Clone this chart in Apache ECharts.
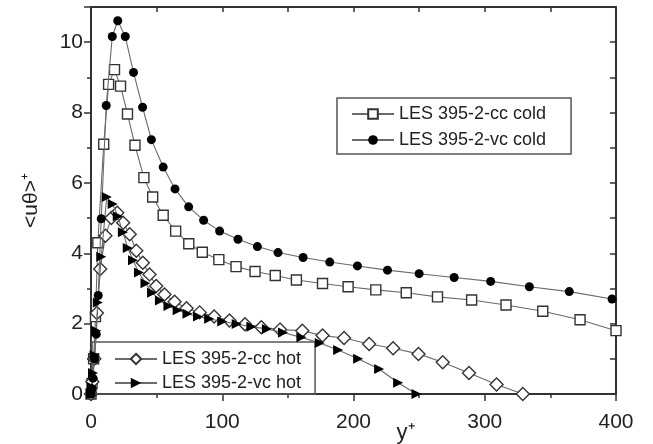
<!DOCTYPE html>
<html><head><meta charset="utf-8">
<script src="https://cdn.jsdelivr.net/npm/echarts@6/dist/echarts.min.js"></script>
<style>html,body{margin:0;padding:0;background:#fff}#c{width:653px;height:444px}</style>
</head><body><div id="c"></div>
<script>
const ccColdX = [0,0.8,2,3.4,5.2,9.7,13.4,17.9,22.5,27.8,33.5,40.3,47,55,64.5,74.5,84.8,97.4,110.5,125,140.4,156.5,176.4,195.9,217,240.2,264,290,316.2,344.2,372.6,400];
const ccColdY = [0,0.3,1.0,2.2,4.3,7.1,8.8,9.22,8.75,7.96,7.07,6.15,5.6,5.08,4.63,4.27,4.03,3.82,3.62,3.48,3.37,3.24,3.14,3.05,2.96,2.88,2.76,2.67,2.53,2.35,2.11,1.80];
const vcColdX = [0,0.7,1.5,2.7,4,5.5,7.8,11.6,16.2,20.4,26.1,32.4,39.3,46,55,64,74.4,85.8,98,112,126.8,142.5,161.6,181.9,203,225.9,250,276.7,304.5,334,364.4,397];
const vcColdY = [0,0.15,0.45,1.0,1.7,2.8,4.98,8.2,10.16,10.61,10.16,9.14,8.15,7.23,6.45,5.83,5.32,4.94,4.63,4.40,4.19,4.02,3.88,3.75,3.64,3.52,3.42,3.31,3.20,3.05,2.91,2.70];
const ccHotX = [0,1,2.5,4.5,7,11,15.5,20,24.5,29.5,34.5,39.5,44.6,49.7,56,63.7,72.8,82.8,93.8,105.5,117.3,129.8,144,161,176.4,192.8,211.9,230.2,249.5,268,288,309,329];
const ccHotY = [0,0.35,1.0,2.3,3.55,4.5,5.0,5.15,4.87,4.54,4.07,3.73,3.4,3.07,2.83,2.62,2.44,2.32,2.2,2.09,1.98,1.9,1.83,1.80,1.66,1.59,1.42,1.30,1.14,0.9,0.6,0.27,0.0];
const vcHotX = [0,0.7,1.5,2.7,4,5.2,7.8,12,16.5,20.4,24.3,28,32,36.5,41.5,46.5,52.5,59,66,73.5,81.5,90,100,111,122.2,134,146.3,160.3,174.3,188.3,203.5,219.5,234,248];
const vcHotY = [0,0.2,0.6,1.1,1.8,2.6,3.9,5.6,5.4,5.05,4.6,4.15,3.8,3.45,3.15,2.88,2.66,2.5,2.38,2.28,2.2,2.14,2.06,1.99,1.91,1.85,1.75,1.61,1.45,1.25,1.0,0.71,0.32,0.0];
const names = ['LES 395-2-cc cold','LES 395-2-vc cold','LES 395-2-cc hot','LES 395-2-vc hot'];
const xTicks = {min:0, max:400, interval:100};
const yTicks = {min:0, max:11, interval:2};

const FONT = 'Liberation Sans, Arial, sans-serif';
const zip = (a,b)=>a.map((v,i)=>[v,b[i]]);
const lineStyle = {color:'#6a6a6a', width:1.1};
const axisLine = {show:true, onZero:false, lineStyle:{color:'#333', width:2}};
const chart = echarts.init(document.getElementById('c'), null, {renderer:'canvas'});
chart.setOption({
  animation:false,
  backgroundColor:'#fff',
  grid:{left:91, right:37, top:7, bottom:50, containLabel:false, outerBoundsMode:'none'},
  xAxis:[
    {type:'value', min:xTicks.min, max:xTicks.max, interval:xTicks.interval,
     name:'y⁺', nameLocation:'middle', nameGap:28, nameMoveOverlap:false,
     nameTextStyle:{fontSize:22, color:'#222', fontFamily:FONT, padding:[0,0,0,104]},
     axisLine:axisLine, axisTick:{show:true, inside:false, length:7, lineStyle:{color:'#333', width:1.5}},
     minorTick:{show:true, splitNumber:2, length:4, lineStyle:{color:'#333', width:1.5}},
     axisLabel:{fontSize:21, color:'#222', fontFamily:FONT, margin:18},
     splitLine:{show:false}},
    {type:'value', position:'top', min:xTicks.min, max:xTicks.max, interval:50,
     axisLine:axisLine, axisTick:{show:true, inside:true, length:5, lineStyle:{color:'#333', width:1.5}},
     axisLabel:{show:false}, splitLine:{show:false}}
  ],
  yAxis:[
    {type:'value', min:yTicks.min, max:yTicks.max, interval:yTicks.interval,
     name:'<uθ>⁺', nameLocation:'middle', nameGap:49, nameRotate:90, nameMoveOverlap:false,
     nameTextStyle:{fontSize:21, color:'#222', fontFamily:FONT},
     axisLine:axisLine, axisTick:{show:true, inside:false, length:7, lineStyle:{color:'#333', width:1.5}},
     minorTick:{show:true, splitNumber:2, length:4, lineStyle:{color:'#333', width:1.5}},
     axisLabel:{fontSize:21, color:'#222', fontFamily:FONT, margin:8, showMaxLabel:false,
       formatter:v=> (v===11?'':String(v))},
     splitLine:{show:false}},
    {type:'value', position:'right', min:yTicks.min, max:yTicks.max, interval:1,
     axisLine:axisLine, axisTick:{show:true, inside:true, length:6, lineStyle:{color:'#333', width:1.5}},
     axisLabel:{show:false}, splitLine:{show:false}}
  ],
  legend:[
    {data:[names[0],names[1]], orient:'vertical', left:337, top:98,
     itemWidth:42, itemHeight:12, itemGap:8, padding:[7,25,5,14],
     borderColor:'#555', borderWidth:1.5, backgroundColor:'#fff',
     textStyle:{fontSize:18, color:'#222', fontFamily:FONT}},
    {data:[names[2],names[3]], orient:'vertical', left:92, top:342,
     itemWidth:42, itemHeight:13, itemGap:6, padding:[8,14,2,22],
     borderColor:'#555', borderWidth:1.5,
     textStyle:{fontSize:18, color:'#222', fontFamily:FONT}}
  ],
  series:[
    {name:names[0], type:'line', data:zip(ccColdX,ccColdY), symbol:'rect', symbolSize:10,
     itemStyle:{color:'#fff', borderColor:'#333', borderWidth:1.4}, lineStyle:lineStyle, z:3},
    {name:names[1], type:'line', data:zip(vcColdX,vcColdY), symbol:'circle', symbolSize:9,
     itemStyle:{color:'#000', borderColor:'#000', borderWidth:0}, lineStyle:lineStyle, z:4},
    {name:names[2], type:'line', data:zip(ccHotX,ccHotY), symbol:'diamond', symbolSize:13,
     itemStyle:{color:'#fff', borderColor:'#333', borderWidth:1.4}, lineStyle:lineStyle, z:3},
    {name:names[3], type:'line', data:zip(vcHotX,vcHotY), symbol:'triangle', symbolSize:10, symbolRotate:-90,
     itemStyle:{color:'#000', borderColor:'#000', borderWidth:0}, lineStyle:lineStyle, z:4}
  ]
});
</script></body></html>
